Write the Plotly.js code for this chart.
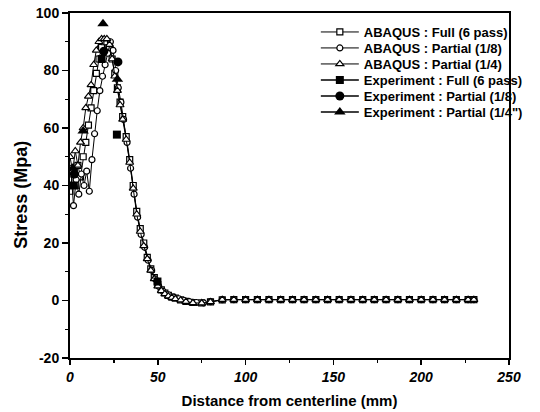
<!DOCTYPE html>
<html>
<head>
<meta charset="utf-8">
<script src="https://cdn.plot.ly/plotly-3.0.1.min.js"></script>
<style>html,body{margin:0;padding:0;background:#fff;}#chart{width:540px;height:412px;}</style>
</head>
<body>
<div id="chart"></div>
<script>
// ABAQUS : Full (6 pass)
var xFull = [0,1.5,3,4.5,6,7.5,9,10.5,12,13.5,15,16.5,18,19.5,21,22.5,24,25.5,27,28.5,30,32,34,36,38,40,42,44,46,48,50,52,54,56,58,60,63,66,70,75,80,86.7,93.3,100,106.7,113.3,120,126.7,133.3,140,146.7,153.3,160,166.7,173.3,180,186.7,193.3,200,206.7,213.3,220,226.7,230];
var yFull = [38,44,40,47,43,50,55,61,67,73,79,84,88,90,90,88,84,79,74,69,64,57,49,40,31,25,20,15,11,8,5.5,3.7,2.6,1.8,1.2,0.8,0.2,-0.3,-0.7,-0.8,-0.5,0.2,0.3,0.3,0.3,0.3,0.3,0.3,0.3,0.3,0.3,0.3,0.3,0.3,0.3,0.3,0.3,0.3,0.3,0.3,0.3,0.3,0.3,0.3];
// ABAQUS : Partial (1/8)
var x18 = [0.5,2,3.5,5,6.5,8,9.5,11,12.5,14,15.5,17,18.5,20,21.5,23,24.5,26,27.5,29,30.5,32.5,34.5,36.5,38.5,40.5,42.5,44.5,46.5,48.5,50.5,53,56,59,62,65,68,72,76,80,86.7,93.3,100,106.7,113.3,120,126.7,133.3,140,146.7,153.3,160,166.7,173.3,180,186.7,193.3,200,206.7,213.3,220,226.7,230];
var y18 = [46,33,42,37,44,40,45,38,49,58,66,73,78,82,86,90,87,80,74,69,63,55,46,37,29,23,18.5,14,10.5,7.5,5,3.2,2,1.2,0.6,0,-0.4,-0.7,-0.8,-0.4,0.3,0.3,0.3,0.3,0.3,0.3,0.3,0.3,0.3,0.3,0.3,0.3,0.3,0.3,0.3,0.3,0.3,0.3,0.3,0.3,0.3,0.3,0.3];
// ABAQUS : Partial (1/4)
var x14 = [0,1.5,3,4.5,6,7.5,9,10.5,12,13.5,15,16.5,18,19.5,21,22.5,24,25.5,27,28.5,30,32,34,36,38,40,42,44,46,48,50,52,54,56,58,60,63,66,70,75,80,86.7,93.3,100,106.7,113.3,120,126.7,133.3,140,146.7,153.3,160,166.7,173.3,180,186.7,193.3,200,206.7,213.3,220,226.7,230];
var y14 = [50,45,52,47,55,60,67,71,75,82,87,90,91,91,91,89,84,78,73,68,63,56,48,39,30,24,19,14.5,10.5,7.5,5,3.4,2.3,1.5,1,0.6,0.1,-0.4,-0.8,-0.9,-0.5,0.3,0.3,0.3,0.3,0.3,0.3,0.3,0.3,0.3,0.3,0.3,0.3,0.3,0.3,0.3,0.3,0.3,0.3,0.3,0.3,0.3,0.3,0.3];
// Experiment
var xExpFull = [2, 18, 26.7, 49.8];
var yExpFull = [40, 84, 57.7, 6.6];
var xExp18 = [2.5, 19.3, 27.3];
var yExp18 = [44, 86.7, 83];
var xExp14 = [1.5, 7.5, 18.8, 27];
var yExp14 = [46, 59, 96.3, 77];

// tick labels
var xTickVals = [0, 50, 100, 150, 200, 250];
var xTickText = ['0', '50', '100', '150', '200', '250'];
var yTickVals = [-20, 0, 20, 40, 60, 80, 100];
var yTickText = ['-20', '0', '20', '40', '60', '80', '100'];

var names = ['ABAQUS : Full (6 pass)','ABAQUS : Partial (1/8)','ABAQUS : Partial (1/4)',
             'Experiment : Full (6 pass)','Experiment : Partial (1/8)','Experiment : Partial (1/4")'];
var xTitle = 'Distance from centerline (mm)';
var yTitle = 'Stress (Mpa)';

var F = 'Liberation Sans, Arial, sans-serif';
function sim(x, y, name, sym, size, lg){
  return {x:x, y:y, name:name, mode:'lines+markers', type:'scatter', legend:lg,
    line:{color:'#000', width:1},
    marker:{symbol:sym, size:size, color:'#fff', line:{color:'#000', width:1.2}}};
}
function expt(x, y, name, sym, size){
  return {x:x, y:y, name:name, mode:'markers', type:'scatter', showlegend:false,
    marker:{symbol:sym, size:size, color:'#000', line:{color:'#000', width:0}}};
}
function leg(name, sym, size, lg){
  return {x:[null], y:[null], name:name, mode:'lines+markers', type:'scatter', legend:lg,
    line:{color:'#000', width:1.5}, marker:{symbol:sym, size:size, color:'#000'}};
}
var data = [
  sim(xFull, yFull, names[0], 'square', 6, 'legend'),
  sim(x18, y18, names[1], 'circle', 6, 'legend2'),
  sim(x14, y14, names[2], 'triangle-up', 7, 'legend3'),
  expt(xExpFull, yExpFull, names[3], 'square', 8),
  expt(xExp18, yExp18, names[4], 'circle', 9),
  expt(xExp14, yExp14, names[5], 'triangle-up', 10),
  leg(names[3], 'square', 8, 'legend4'),
  leg(names[4], 'circle', 9, 'legend5'),
  leg(names[5], 'triangle-up', 10, 'legend6')
];

function L(yv){
  return {x:0.56, y:yv, xanchor:'left', yanchor:'middle', bgcolor:'rgba(0,0,0,0)',
    font:{family:F, size:13, weight:'bold', color:'#000'}, itemwidth:38};
}
var layout = {
  width:540, height:412,
  margin:{l:70, r:31, t:13, b:54},
  paper_bgcolor:'#fff', plot_bgcolor:'#fff',
  font:{family:F, color:'#000'},
  showlegend:true,
  legend:L(0.9449), legend2:L(0.8986), legend3:L(0.8522),
  legend4:L(0.8058), legend5:L(0.7594), legend6:L(0.7130),
  xaxis:{range:[0,250], tickmode:'array', tickvals:xTickVals, ticktext:xTickText,
    ticks:'outside', ticklen:5, tickwidth:1.5, tickcolor:'#000',
    showline:true, linewidth:2, linecolor:'#000', mirror:true, showgrid:false, zeroline:false,
    minor:{tickmode:'linear', tick0:0, dtick:25, ticks:'outside', ticklen:3, tickwidth:1.2, tickcolor:'#000'},
    tickfont:{family:F, size:14, weight:'bold', style:'italic', color:'#000'},
    title:{text:xTitle, font:{family:F, size:15, weight:'bold', color:'#000'}, standoff:12}},
  yaxis:{range:[-20,100], tickmode:'array', tickvals:yTickVals, ticktext:yTickText,
    ticks:'outside', ticklen:6, tickwidth:1.5, tickcolor:'#000',
    showline:true, linewidth:2, linecolor:'#000', mirror:true, showgrid:false, zeroline:false,
    minor:{tickmode:'linear', tick0:0, dtick:10, ticks:'outside', ticklen:3, tickwidth:1.2, tickcolor:'#000'},
    tickfont:{family:F, size:14, weight:'bold', color:'#000'}},
  annotations:[{text:yTitle, xref:'paper', yref:'paper', x:-0.085, y:0.4725, xanchor:'right', yanchor:'middle',
    textangle:-90, showarrow:false, font:{family:F, size:18, weight:'bold', color:'#000'}}]
};
Plotly.newPlot('chart', data, layout, {displayModeBar:false, staticPlot:true});
</script>
</body>
</html>
